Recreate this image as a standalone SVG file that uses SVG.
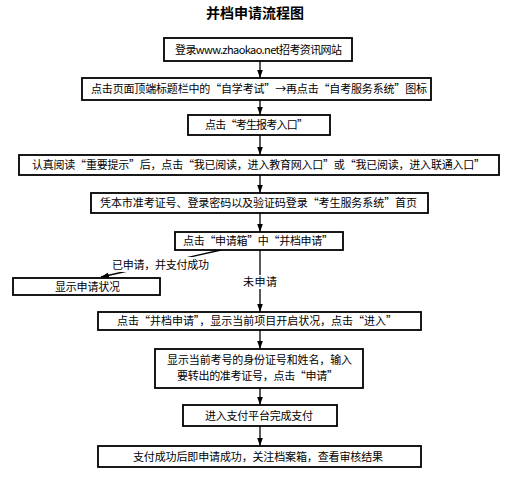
<svg xmlns="http://www.w3.org/2000/svg" width="520" height="483" viewBox="0 0 520 483">
<defs>
<style>
text{font-family:"Noto Sans CJK SC","Noto Sans",sans-serif;font-size:11px;fill:#000;text-anchor:middle}
.title{font-size:14px;font-weight:bold}
.box{fill:#fff;stroke:#000;stroke-width:1.8}
.conn{stroke:#000;stroke-width:1.3;fill:none}
.bg{fill:#fff;stroke:none}
</style>
<marker id="ah" markerUnits="userSpaceOnUse" markerWidth="8" markerHeight="11" refX="10" refY="3.5" orient="auto" viewBox="0 0 10 7">
<path d="M0,0 L10,3.5 L0,7 z" fill="#000"/>
</marker>
</defs>
<rect width="520" height="483" fill="#fff"/>
<text class="title" x="255" y="18">并档申请流程图</text>
<g id="connectors">
<line class="conn" x1="260" y1="61" x2="260" y2="78" marker-end="url(#ah)"/>
<line class="conn" x1="260" y1="100" x2="260" y2="115" marker-end="url(#ah)"/>
<line class="conn" x1="260" y1="135" x2="260" y2="155" marker-end="url(#ah)"/>
<line class="conn" x1="260" y1="175" x2="260" y2="193" marker-end="url(#ah)"/>
<line class="conn" x1="260" y1="213" x2="260" y2="232" marker-end="url(#ah)"/>
<line class="conn" x1="221" y1="250" x2="101" y2="277" marker-end="url(#ah)"/>
<line class="conn" x1="260" y1="250" x2="260" y2="312" marker-end="url(#ah)"/>
<line class="conn" x1="260" y1="330" x2="260" y2="349" marker-end="url(#ah)"/>
<line class="conn" x1="260" y1="388" x2="260" y2="405" marker-end="url(#ah)"/>
<line class="conn" x1="260" y1="426" x2="260" y2="446" marker-end="url(#ah)"/>
<g id="label-yes">
<rect class="bg" x="110" y="257" width="101" height="15"/>
<text x="160.5" y="268.5" textLength="97">已申请，并支付成功</text>
</g>
<g id="label-no">
<rect class="bg" x="241" y="275" width="38" height="14"/>
<text x="260" y="286" textLength="34">未申请</text>
</g>
</g>
<g id="n1"><rect class="box" x="164" y="38" width="188" height="23"/><text x="258.5" y="53.5" textLength="167">登录www.zhaokao.net招考资讯网站</text></g>
<g id="n2"><rect class="box" x="82" y="78" width="349" height="22"/><text x="259" y="93" textLength="336">点击页面顶端标题栏中的“自学考试”→再点击“自考服务系统”图标</text></g>
<g id="n3"><rect class="box" x="188" y="115" width="142" height="20"/><text x="256.5" y="129" textLength="103">点击“考生报考入口”</text></g>
<g id="n4"><rect class="box" x="19" y="155" width="480" height="20"/><text x="258.5" y="169" textLength="453">认真阅读“重要提示”后，点击“我已阅读，进入教育网入口”或“我已阅读，进入联通入口”</text></g>
<g id="n5"><rect class="box" x="91" y="193" width="337" height="20"/><text x="258.5" y="207" textLength="317">凭本市准考证号、登录密码以及验证码登录“考生服务系统”首页</text></g>
<g id="n6"><rect class="box" x="175" y="232" width="168" height="18"/><text x="258" y="245" textLength="150">点击“申请箱”中“并档申请”</text></g>
<g id="n7"><rect class="box" x="13" y="278" width="147" height="17"/><text x="87.5" y="290.5" textLength="65">显示申请状况</text></g>
<g id="n8"><rect class="box" x="98" y="312" width="323" height="18"/><text x="257" y="325" textLength="280">点击“并档申请”，显示当前项目开启状况，点击“进入”</text></g>
<g id="n9"><rect class="box" x="155" y="349" width="208" height="39"/><text x="259.5" y="364" textLength="185">显示当前考号的身份证号和姓名，输入</text><text x="257.5" y="380" textLength="161">要转出的准考证号，点击“申请”</text></g>
<g id="n10"><rect class="box" x="183" y="405" width="154" height="21"/><text x="259" y="419.5" textLength="108">进入支付平台完成支付</text></g>
<g id="n11"><rect class="box" x="98" y="446" width="323" height="21"/><text x="258" y="460.5" textLength="250">支付成功后即申请成功，关注档案箱，查看审核结果</text></g>
</svg>
